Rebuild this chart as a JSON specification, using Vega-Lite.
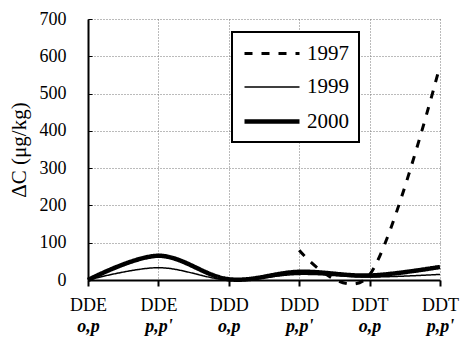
{
  "$schema": "https://vega.github.io/schema/vega-lite/v6.json",
  "width": 352,
  "height": 261,
  "autosize": "none",
  "padding": {"left": 88, "top": 19, "right": 26, "bottom": 65},
  "config": {
    "view": {"stroke": null},
    "font": "Liberation Serif",
    "axis": {"labelFont": "Liberation Serif", "titleFont": "Liberation Serif"},
    "legend": {"strokeWidth": 2, "labelFont": "Liberation Serif"}
  },
  "data": {
    "values": [
      {"compound": "DDD p,p'", "year": "1997", "value": 80},
      {"compound": "DDT o,p", "year": "1997", "value": 14},
      {"compound": "DDT p,p'", "year": "1997", "value": 575},
      {"compound": "DDE o,p", "year": "1999", "value": 0},
      {"compound": "DDE p,p'", "year": "1999", "value": 33},
      {"compound": "DDD o,p", "year": "1999", "value": 0},
      {"compound": "DDD p,p'", "year": "1999", "value": 15},
      {"compound": "DDT o,p", "year": "1999", "value": 8},
      {"compound": "DDT p,p'", "year": "1999", "value": 15},
      {"compound": "DDE o,p", "year": "2000", "value": 0},
      {"compound": "DDE p,p'", "year": "2000", "value": 65},
      {"compound": "DDD o,p", "year": "2000", "value": 2},
      {"compound": "DDD p,p'", "year": "2000", "value": 22},
      {"compound": "DDT o,p", "year": "2000", "value": 12},
      {"compound": "DDT p,p'", "year": "2000", "value": 35}
    ]
  },
  "resolve": {"scale": {"x": "independent"}, "axis": {"x": "independent"}},
  "layer": [
    {
      "mark": {"type": "line", "interpolate": "cardinal", "color": "black", "clip": false},
      "encoding": {
        "x": {
          "field": "compound", "type": "ordinal",
          "sort": ["DDE o,p", "DDE p,p'", "DDD o,p", "DDD p,p'", "DDT o,p", "DDT p,p'"],
          "scale": {"type": "point", "padding": 0},
          "axis": {
            "orient": "bottom", "title": null, "labelAngle": 0,
            "labelExpr": "split(datum.label, ' ')[0]",
            "labelFont": "Liberation Serif",
            "labelFontSize": 18, "labelColor": "black", "labelPadding": 10,
            "domainColor": "black", "domainWidth": 2,
            "tickColor": "black", "tickWidth": 2, "tickSize": 6,
            "grid": true, "gridColor": "#777", "gridDash": [1, 2], "gridWidth": 1
          }
        },
        "y": {
          "field": "value", "type": "quantitative",
          "scale": {"domain": [0, 700], "nice": false},
          "axis": {
            "title": "ΔC (μg/kg)", "titleFont": "Liberation Serif", "titleFontSize": 21, "titleFontWeight": "normal",
            "titleColor": "black", "titlePadding": 10,
            "values": [0, 100, 200, 300, 400, 500, 600, 700],
            "labelFont": "Liberation Serif",
            "labelFontSize": 18, "labelColor": "black", "labelPadding": 26,
            "domainColor": "black", "domainWidth": 2,
            "tickColor": "black", "tickWidth": 1, "tickSize": -4,
            "grid": true, "gridColor": "#777", "gridDash": [1, 2], "gridWidth": 1
          }
        },
        "strokeDash": {
          "field": "year", "type": "nominal",
          "scale": {"type": "ordinal", "domain": ["1997", "1999", "2000"], "range": [[8, 9], [1, 0], [1, 0]]},
          "legend": {
            "title": null, "orient": "none", "legendX": 144, "legendY": 13,
            "symbolType": "M-1,0H4.5", "symbolSize": 400, "symbolStrokeColor": "black",
            "labelFont": "Liberation Serif",
            "labelFontSize": 21, "labelColor": "black", "labelOffset": 40,
            "padding": 10, "rowPadding": 12,
            "strokeColor": "black", "fillColor": "white"
          }
        },
        "strokeWidth": {
          "field": "year", "type": "nominal",
          "scale": {"type": "ordinal", "domain": ["1997", "1999", "2000"], "range": [3, 1.5, 4.5]}
        }
      }
    },
    {
      "mark": {"type": "point", "opacity": 0},
      "encoding": {
        "x": {
          "field": "compound", "type": "ordinal",
          "sort": ["DDE o,p", "DDE p,p'", "DDD o,p", "DDD p,p'", "DDT o,p", "DDT p,p'"],
          "scale": {"type": "point", "padding": 0},
          "axis": {
            "orient": "bottom", "title": null, "labelAngle": 0,
            "labelExpr": "split(datum.label, ' ')[1]",
            "labelFont": "Liberation Serif",
            "labelFontSize": 18, "labelFontStyle": "italic", "labelFontWeight": "bold",
            "labelColor": "black", "labelPadding": 37,
            "domain": false, "ticks": false, "grid": false
          }
        }
      }
    }
  ]
}
